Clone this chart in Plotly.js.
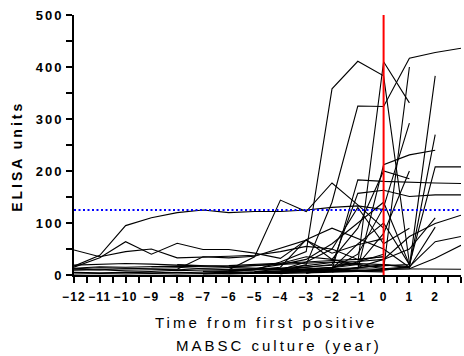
<!DOCTYPE html>
<html>
<head>
<meta charset="utf-8">
<script src="https://cdn.plot.ly/plotly-3.0.1.min.js"></script>
<style>
html,body{margin:0;padding:0;background:#fff;}
#chart{width:464px;height:356px;}
.annotation-text{letter-spacing:3px;}
.xtick text,.ytick text{font-weight:bold !important;}
.xtick text{letter-spacing:1.2px;}
.ytick text{letter-spacing:2px;}
</style>
</head>
<body>
<div id="chart"></div>
<script>
// x positions: years from first positive MABSC culture
const years = [-12,-11,-10,-9,-8,-7,-6,-5,-4,-3,-2,-1,0,1,2,3];
const xTickVals = [-12,-11,-10,-9,-8,-7,-6,-5,-4,-3,-2,-1,0,1,2,3];
const yTickVals = [0,100,200,300,400,500];
const threshold = 125;
const firstPositive = 0;
const xTitle1 = 'Time from first positive';
const xTitle2 = 'MABSC culture (year)';
const yTitle = 'ELISA units';

// one array per patient (ELISA units per year, null = no sample)
const p01 = [17,38,95,110,120,125,120,122,122,125,130,133,126,null,null,null];
const p02 = [15,33,64,40,61,49,49,42,32,67,42,58,70,null,null,null];
const p03 = [48,35,45,50,33,34,36,38,45,55,50,30,35,null,null,null];
const p04 = [12,14,13,12,11,35,33,36,52,67,30,20,15,null,null,null];
const p05 = [null,null,null,null,null,null,8,10,25,45,358,411,383,23,null,null];
const p06 = [null,null,null,null,null,null,null,null,6,20,140,325,324,417,428,436];
const p07 = [null,null,null,null,null,null,10,35,144,122,177,135,90,null,null,null];
const p08 = [null,null,null,null,null,null,null,4,5,10,15,23,410,331,null,null];
const p09 = [null,null,null,null,null,null,null,null,null,5,10,12,11,400,null,null];
const p10 = [11,10,12,11,10,12,11,12,13,14,10,183,180,178,177,176];
const p11 = [null,null,null,null,null,null,null,6,8,15,20,157,163,151,154,154];
const p12 = [null,null,null,null,null,null,null,null,4,8,10,12,212,231,240,null];
const p13 = [null,null,null,null,null,null,null,null,null,3,12,40,130,292,null,null];
const p14 = [null,null,null,null,20,18,16,18,20,22,25,20,12,16,383,null];
const p15 = [null,null,null,null,null,7,8,10,11,9,10,8,9,16,270,null];
const p16 = [null,null,null,null,null,null,null,null,null,5,8,14,18,20,208,208];
const p17 = [null,null,null,null,null,null,null,null,null,null,6,15,30,74,99,115];
const p18 = [null,null,null,null,null,null,3,6,12,15,18,22,20,16,64,74];
const p19 = [2,3,2,3,2,3,2,3,4,5,6,8,10,12,32,57];
const p20 = [5,4,5,4,5,4,5,4,3,4,5,7,12,12,11,11];
const p21 = [null,null,null,16,15,12,10,11,13,18,24,26,30,50,110,null];
const p22 = [null,null,null,null,null,null,null,null,2,10,12,14,20,14,92,null];
const p23 = [null,null,null,null,null,null,null,null,null,4,14,20,80,200,null,null];
const p24 = [null,null,null,null,null,null,8,12,20,30,60,100,140,20,null,null];
const p25 = [null,null,null,null,null,null,15,18,22,35,30,90,200,185,null,null];
const p26 = [null,null,null,null,null,null,null,6,8,10,12,60,100,20,null,null];
const p27 = [null,null,null,null,null,null,null,null,10,25,50,130,60,90,null,null];
const p28 = [null,null,null,null,null,null,7,10,15,68,90,70,50,15,null,null];
const p29 = [9,10,8,7,9,8,6,5,6,8,7,9,8,null,null,null];
const p30 = [19,21,22,21,19,17,18,20,22,25,28,30,35,null,null,null];
const p31 = [13,16,15,16,17,16,15,14,12,10,8,7,6,null,null,null];
const p32 = [null,null,null,null,null,2,3,4,6,12,15,25,40,null,null,null];

const patients = [p01,p02,p03,p04,p05,p06,p07,p08,p09,p10,p11,p12,p13,p14,p15,p16,
                  p17,p18,p19,p20,p21,p22,p23,p24,p25,p26,p27,p28,p29,p30,p31,p32];

const traces = patients.map(v => ({
  x: years, y: v, type: 'scatter', mode: 'lines',
  line: {color: '#000', width: 1.1}, hoverinfo: 'skip', showlegend: false
}));

const FAM = 'Liberation Sans, Arial, sans-serif';

const layout = {
  width: 464, height: 356,
  margin: {l: 74, r: 3, t: 15, b: 81},
  paper_bgcolor: '#fff', plot_bgcolor: '#fff',
  showlegend: false,
  xaxis: {
    range: [-12, 3], tickmode: 'array', tickvals: xTickVals,
    ticktext: xTickVals.map(v => v < 0 ? '\u2212' + Math.abs(v) : String(v)),
    showline: true, linecolor: '#000', linewidth: 2,
    ticks: 'outside', ticklen: 6, tickwidth: 2, tickcolor: '#000',
    ticklabelstandoff: 4,
    minor: {dtick: 0.5, tick0: 0, ticks: 'outside', ticklen: 6, tickwidth: 2, tickcolor: '#000', showgrid: false},
    showgrid: false, zeroline: false,
    tickfont: {family: FAM, size: 12, color: '#000', weight: 'bold'}
  },
  yaxis: {
    range: [0, 500], tickmode: 'array', tickvals: yTickVals,
    showline: true, linecolor: '#000', linewidth: 2,
    ticks: 'outside', ticklen: 6, tickwidth: 2, tickcolor: '#000',
    minor: {dtick: 50, tick0: 0, ticks: 'outside', ticklen: 6, tickwidth: 2, tickcolor: '#000', showgrid: false},
    showgrid: false, zeroline: false,
    tickfont: {family: FAM, size: 13, color: '#000', weight: 'bold'}
  },
  annotations: [
    {text: xTitle1, xref: 'paper', yref: 'paper', x: 0.497, y: -0.181, xanchor: 'center', yanchor: 'middle',
     showarrow: false, font: {family: FAM, size: 15, color: '#000'}},
    {text: xTitle2, xref: 'paper', yref: 'paper', x: 0.53, y: -0.27, xanchor: 'center', yanchor: 'middle',
     showarrow: false, font: {family: FAM, size: 15, color: '#000'}},
    {text: yTitle, xref: 'paper', yref: 'paper', x: -0.147, y: 0.455, xanchor: 'center', yanchor: 'middle',
     textangle: -90, showarrow: false, font: {family: FAM, size: 14, color: '#000', weight: 'bold'}}
  ],
  shapes: [
    {type: 'line', xref: 'x', yref: 'y', x0: firstPositive, x1: firstPositive, y0: 0, y1: 500,
     line: {color: '#ff0000', width: 2}},
    {type: 'line', xref: 'x', yref: 'y', x0: -12, x1: 3, y0: threshold, y1: threshold,
     line: {color: '#0000ff', width: 2, dash: '2px,2.5px'}}
  ]
};

Plotly.newPlot('chart', traces, layout, {staticPlot: true, displayModeBar: false});
</script>
</body>
</html>
